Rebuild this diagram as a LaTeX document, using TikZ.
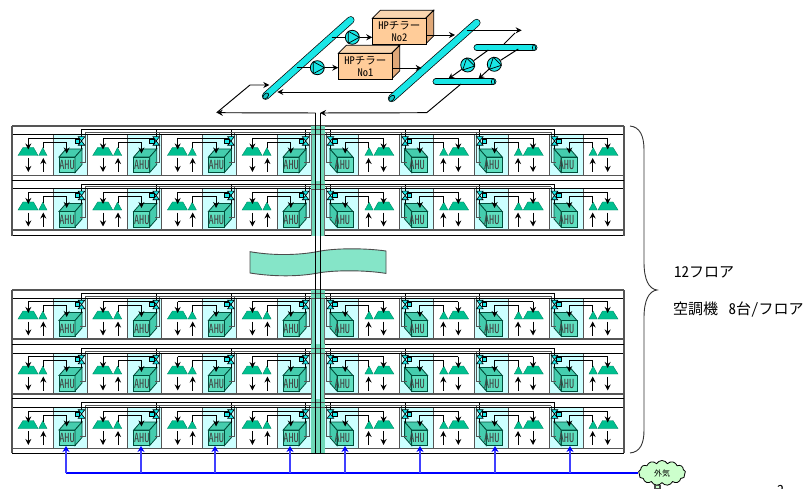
\documentclass[tikz,border=0pt]{standalone}
\usepackage{fontspec}
\setmainfont{Liberation Sans}
\newfontfamily\jp[RawFeature=+hwid]{Noto Sans CJK JP}
\usetikzlibrary{arrows.meta,shapes.geometric,shapes.symbols}
\definecolor{cellcyan}{HTML}{CCFFFF}
\definecolor{teal1}{HTML}{00C090}
\definecolor{cubefront}{HTML}{5FE0C0}
\definecolor{cubeside}{HTML}{45CDAE}
\definecolor{band}{HTML}{85E5C8}
\definecolor{shaftgreen}{HTML}{6FD8B8}
\definecolor{pipecyan}{HTML}{19E6E6}
\definecolor{peach}{HTML}{FFCC99}
\definecolor{peachside}{HTML}{E0A878}
\definecolor{peachtop}{HTML}{FAD6B0}
\definecolor{grayline}{HTML}{555555}
\definecolor{airblue}{HTML}{0000FF}
\tikzset{
  x=1pt,y=-1pt,
  >={Stealth[length=6pt,width=6pt]},
  thinl/.style={draw=black,line width=1pt},
  flow/.style={draw=black,line width=.95pt,->},
  grayl/.style={draw=grayline,line width=1.4pt},
  eqp/.style={fill=teal1,draw=teal1!70!black,line width=.4pt},
  cubef/.style={fill=cubefront,draw=black!60!teal1,line width=.8pt},
  cubes/.style={fill=cubeside,draw=black!60!teal1,line width=.8pt},
  valvest/.style={fill=pipecyan,draw=black,line width=.6pt},
  ahutext/.style={font=\jp\fontsize{12.5}{12.5}\selectfont,text=black!75,inner sep=0pt},
  chiller/.style={rectangle,fill=peach,draw=black,line width=.9pt,minimum width=53.4pt,minimum height=25.6pt,inner sep=0pt,align=center,font=\jp\fontsize{10.5}{12}\selectfont},
  pump/.style={circle,draw=black,line width=.8pt,fill=pipecyan,minimum size=14pt,inner sep=0pt},
  side/.style={font=\jp\fontsize{15}{15}\selectfont,anchor=west,inner sep=0pt},
  air/.style={draw=airblue,line width=1.2pt},
  airarrow/.style={draw=airblue!75,line width=1.1pt,-{Stealth[length=6pt,width=7pt,color=airblue]}},
}
\newcommand{\unitbody}[1]{%
  \fill[cellcyan] (41,0) rectangle (75,41);
  \draw[grayl,line width=1pt] (41,0) -- (41,41) (75,0) -- (75,41);
  \draw[eqp] (11,13) -- (21.5,13) -- (26,21) -- (6,21) -- cycle;
  \draw[eqp] (30.8,13.2) -- (35,21) -- (26.8,21) -- cycle;
  \draw[flow] (16.3,23.5) -- (16.3,37.5);
  \draw[flow] (31.3,37.5) -- (31.3,23.5);
  \draw[cubef] (47,22.5) rectangle (63,38);
  \draw[cubes] (47,22.5) -- (54,14.5) -- (70,14.5) -- (63,22.5) -- cycle;
  \draw[cubes] (63,22.5) -- (70,14.5) -- (70,30) -- (63,38) -- cycle;
  \node[ahutext] (ahu) at (#1,30.5) {\scalebox{.82}[1]{AHU}};
  \draw[flow] (16.3,3.5) -- (16.3,15);
  \draw[thinl,line width=.9pt] (16.3,3.5) -- (69.5,3.5);
  \draw[flow] (31.3,14) -- (31.3,7.5) -- (54.7,7.5) -- (54.7,19);
  \draw[thinl,line width=.8pt] (69.5,-5) -- (69.5,15);
  \draw[grayl,line width=1pt] (73,-2) -- (73,28.5) -- (68,28.5);
  \draw[valvest] (66.2,2.2) -- (72.8,2.2) -- (66.2,10.8) -- (72.8,10.8) -- cycle;
  \draw[valvest] (63,4.5) rectangle (67.5,8.5);
}
\newcommand{\floorunits}[1]{%
  \foreach \i in {0,1,2,3} {
    \begin{scope}[shift={({12+\i*74.7},#1)}]
      \unitbody{55}
    \end{scope}
    \begin{scope}[shift={({624-\i*74.7},#1)},xscale=-1]
      \unitbody{57.5}
    \end{scope}
  }
  \draw[thinl,line width=.9pt] (81,#1-5) -- (555,#1-5);
  \draw[grayl,line width=1pt] (85,#1-2) -- (551,#1-2);
}
\newcommand{\shaftpart}[2]{%
  \fill[cellcyan] (311,#1) rectangle (325,#2);
  \fill[shaftgreen] (311,#1) rectangle (315.7,#2);
  \fill[shaftgreen] (320,#1) rectangle (324.3,#2);
  \draw[black!55,line width=.5pt] (311,#1) -- (311,#2) (324.5,#1) -- (324.5,#2);
}
\begin{document}
\begin{tikzpicture}
\useasboundingbox (0,0) rectangle (808,489);

% floors
\foreach \t in {134.5,189,298,353,407.5} {
  \floorunits{\t}
  \draw[grayl] (12,\t+41) -- (624,\t+41);
  \draw[thinl] (12,\t) -- (624,\t);
}
% frames
\foreach \a/\b in {126/235.7,290/453} {
  \draw[grayl] (12,\a) -- (624,\a);
  \draw[thinl] (12,\b) -- (624,\b);
  \draw[grayl] (12,\a) -- (12,\b) (624,\a) -- (624,\b);
}
\foreach \t in {181,344,398.5} \draw[thinl] (12,\t) -- (624,\t);

% shaft
\shaftpart{126}{235.7}
\shaftpart{290}{453}
\foreach \a/\b in {126/134.5,181/189,290/298,344/353,398.5/453}
  \fill[shaftgreen] (311,\a) rectangle (325,\b);
\foreach \t in {134.5,189,298,353,407.5} {
  \draw[grayl,line width=.8pt] (311,\t) -- (325,\t);
  \draw[grayl,line width=.8pt] (311,\t-5) -- (325,\t-5);
}

% banner
\draw[fill=band,draw=black!70,line width=.9pt] (250,251.7)
  .. controls (275,256) and (300,255) .. (318,251.5)
  .. controls (335,248) and (365,248) .. (386,251)
  -- (386,273.4)
  .. controls (365,270) and (335,270) .. (318,273)
  .. controls (300,276.5) and (275,277) .. (250,273)
  -- cycle;

% risers
\coordinate (rA) at (315.7,113);
\coordinate (rB) at (320,113);
\coordinate (rAe) at (315.7,453);
\coordinate (rBe) at (320,453);
\draw[thinl] (rA) -- (rAe) (rB) -- (rBe);

% pipes
\foreach \ax/\ay/\bx/\by in {265.7/96/350.7/20, 391.7/98.3/476.7/22.7} {
  \draw[black,line width=7.6pt,line cap=round] (\ax,\ay) -- (\bx,\by);
  \draw[pipecyan,line width=6.2pt,line cap=round] (\ax,\ay) -- (\bx,\by);
  \draw[black,line width=.7pt,fill=pipecyan!85!black,rotate around={-42:(\ax,\ay)}] (\ax,\ay) ellipse (2.2pt and 3.6pt);
}
\foreach \ax/\bx/\yy in {477/534/47.7, 436/493/81.7} {
  \draw[black,line width=6.8pt,line cap=round] (\ax,\yy) -- (\bx,\yy);
  \draw[pipecyan,line width=5.4pt,line cap=round] (\ax,\yy) -- (\bx,\yy);
  \draw[black,line width=.6pt,fill=pipecyan] (\bx,\yy) ellipse (1.6pt and 2.9pt);
}

% chillers
\foreach \n/\x/\y/\lab in {2/372.3/18.3/No2,1/338.3/53.3/No1} {
  \draw[fill=peachtop,draw=black,line width=.8pt] (\x,\y) -- (\x+8,\y-8) -- (\x+61.4,\y-8) -- (\x+53.4,\y) -- cycle;
  \draw[fill=peachside,draw=black,line width=.8pt] (\x+53.4,\y) -- (\x+61.4,\y-8) -- (\x+61.4,\y+17.6) -- (\x+53.4,\y+25.6) -- cycle;
  \node[chiller,anchor=north west] (ch\n) at (\x,\y) {HPチラー\\\lab};
}

% pumps
\node[pump] (p2) at (352.3,37.3) {};
\node[pump] (p1) at (317.3,67.7) {};
\node[pump] (p3) at (467.7,65) {};
\node[pump] (p4) at (494.3,64.3) {};

% plant connectors
\coordinate (q2) at (331.7,37.3);
\coordinate (q1) at (297.3,67.7);
\coordinate (h2) at (455,35);
\coordinate (h1) at (421.7,68);
\coordinate (o1) at (466.7,30.3);
\coordinate (o2) at (521.7,30.3);
\coordinate (o3) at (515,33);
\coordinate (o4) at (504,44);
\coordinate (u3) at (488.3,50);
\coordinate (u4) at (518.3,49);
\coordinate (d3) at (448.3,79);
\coordinate (d4) at (478.3,79);
\coordinate (l1) at (461,84);
\coordinate (l2) at (426.7,112.7);
\coordinate (l3) at (216.7,112.7);
\coordinate (l4) at (250,85);
\coordinate (l5) at (269.3,85);
\coordinate (r1) at (393.3,92);
\coordinate (r2) at (277.3,92);
\draw[thinl] (q2) -- (p2);
\draw[flow] (p2) -- (p2 -| ch2.west);
\draw[thinl] (q1) -- (p1);
\draw[flow] (p1) -- (p1 -| ch1.west);
\draw[flow] (ch2.east |- h2) -- (h2);
\draw[flow] (ch1.east |- h1) -- (h1);
\draw[flow] (o1) -- (o2);
\draw[thinl] (o3) -- (o4);
\draw[thinl] (u3) -- (p3);
\draw[flow] (p3) -- (d3);
\draw[thinl] (u4) -- (p4);
\draw[flow] (p4) -- (d4);
\draw[flow] (l1) -- (l2) -- (rB);
\draw[flow] (rA) -- (l3);
\draw[flow] (l3) -- (l4) -- (l5);
\draw[flow] (r1) -- (r2);
\foreach \c in {p1,p2} \draw[fill=pipecyan,draw=black,line width=.7pt] ([xshift=-4pt,yshift=6pt]\c.center) -- ([xshift=7pt]\c.center) -- ([xshift=-4pt,yshift=-6pt]\c.center) -- cycle;
\foreach \c in {p3,p4} \draw[fill=pipecyan,draw=black,line width=.7pt] ([xshift=7pt,yshift=-1pt]\c.center) -- ([xshift=-5pt,yshift=-5pt]\c.center) -- ([xshift=-1pt,yshift=7pt]\c.center) -- cycle;

% brace
\draw[black!80,line width=.9pt] (630,126) .. controls (640,127) and (644,136) .. (644,150)
  -- (644,262) .. controls (644,280) and (649,289) .. (657,290)
  .. controls (649,291) and (644,300) .. (644,318)
  -- (644,430) .. controls (644,444) and (640,452) .. (630,453);
\node[side] (tf) at (674,272) {12フロア};
\node[side] (tu) at (673,310) {空調機\hspace{3pt} 8台/フロア};

% outside air
\node[cloud,cloud puffs=13,cloud puff arc=120,aspect=2,draw=black,fill=green!20,line width=.8pt,minimum width=47pt,minimum height=25pt,inner sep=0pt,font=\jp\fontsize{8}{8}\selectfont] (oa) at (662,473) {外気};
\coordinate (b0) at (66,473);
\draw[air] (b0) -- (oa.west);
\foreach \x [count=\k] in {66,141,215,290,345,420,495,570} {
  \coordinate (bt\k) at (\x,446);
  \draw[airarrow] (\x,473) -- (bt\k);
}
\fill[black!70] (654,484.5) rectangle (660.5,489);
\fill[green!20] (655.5,486) rectangle (659,488);

\node[font=\jp\fontsize{14}{14}\selectfont,inner sep=0pt,anchor=north] (pg) at (780.5,485) {2};
\end{tikzpicture}
\end{document}
